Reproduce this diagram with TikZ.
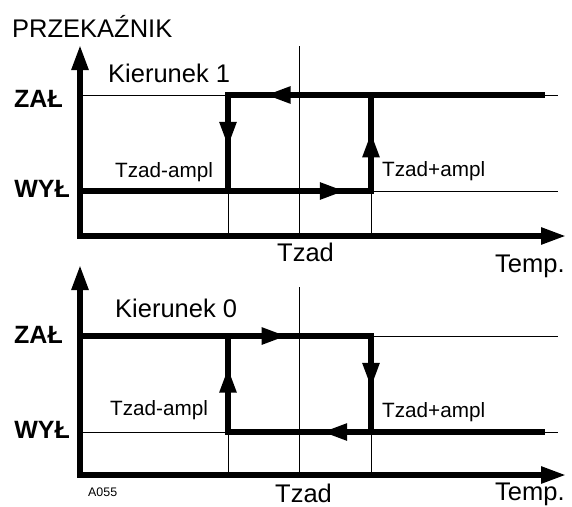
\documentclass[tikz,border=0pt]{standalone}
\usepackage{fontspec}
\setmainfont{Liberation Sans}
\usetikzlibrary{arrows.meta,decorations.markings}

\tikzset{
  axis/.style={line width=5.5pt, {Triangle[length=25pt,width=16pt]}-{Triangle[length=25pt,width=16pt]}},
  guide/.style={line width=0.9pt},
  relay/.style={line width=5.5pt, line cap=rect},
  midarrow/.style={postaction={decorate,decoration={markings,
      mark=at position #1 with {\arrow{Triangle[length=25pt,width=16pt]}}}}},
  biglabel/.style={font=\fontsize{25.5}{30}\selectfont, inner sep=0pt, anchor=base west},
  smalllabel/.style={font=\fontsize{20.7}{24}\selectfont, inner sep=0pt, anchor=base west},
  levellabel/.style={font=\bfseries\fontsize{25}{30}\selectfont, inner sep=0pt, anchor=base east},
}

\begin{document}
\begin{tikzpicture}[x=1pt,y=-1pt]
    \useasboundingbox (0,0) rectangle (572,506);

    % upper chart
    \coordinate (ytip1) at (80,45);
    \coordinate (orig1) at (80,236);
    \coordinate (xtip1) at (566,236);
    \coordinate (on1a) at (80,95);
    \coordinate (on1b) at (228,95);
    \coordinate (on1c) at (371,95);
    \coordinate (on1d) at (542,95);
    \coordinate (on1e) at (558,95);
    \coordinate (off1a) at (80,191);
    \coordinate (off1b) at (228,191);
    \coordinate (off1c) at (371,191);
    \coordinate (off1e) at (558,191);
    \coordinate (lo1) at (228,236);
    \coordinate (hi1) at (371,236);
    \coordinate (set1a) at (299,46);
    \coordinate (set1b) at (299,236);

    \draw[guide] (on1a) -- (on1e);
    \draw[guide] (off1a) -- (off1e);
    \draw[guide] (off1b) -- (lo1);
    \draw[guide] (off1c) -- (hi1);
    \draw[guide] (set1a) -- (set1b);
    \draw[axis] (ytip1) -- (orig1) -- (xtip1);
    \draw[relay, midarrow=0.88] (on1d) -- (on1b);
    \draw[relay, midarrow=0.54] (on1b) -- (off1b);
    \draw[relay, midarrow=0.91] (off1a) -- (off1c);
    \draw[relay, midarrow=0.61] (off1c) -- (on1c);

    \node[biglabel] (relay) at (12,37) {PRZEKAŹNIK};
    \node[biglabel] (dir1) at (108,82) {Kierunek 1};
    \node[levellabel] (on1) at (63,107) {ZAŁ};
    \node[levellabel] (off1) at (70,197) {WYŁ};
    \node[smalllabel] (lo1text) at (115,177) {Tzad-ampl};
    \node[smalllabel] (hi1text) at (382,176) {Tzad+ampl};
    \node[biglabel] (set1text) at (277,261) {Tzad};
    \node[biglabel] (temp1) at (495,272) {Temp.};

    % lower chart
    \coordinate (ytip0) at (80,265);
    \coordinate (orig0) at (80,475);
    \coordinate (xtip0) at (566,475);
    \coordinate (on0a) at (80,336);
    \coordinate (on0b) at (228,336);
    \coordinate (on0c) at (371,336);
    \coordinate (on0e) at (558,336);
    \coordinate (off0a) at (80,432);
    \coordinate (off0b) at (228,432);
    \coordinate (off0c) at (371,432);
    \coordinate (off0d) at (542,432);
    \coordinate (off0e) at (558,432);
    \coordinate (lo0) at (228,475);
    \coordinate (hi0) at (371,475);
    \coordinate (set0a) at (299,287);
    \coordinate (set0b) at (299,475);

    \draw[guide] (on0a) -- (on0e);
    \draw[guide] (off0a) -- (off0e);
    \draw[guide] (off0b) -- (lo0);
    \draw[guide] (off0c) -- (hi0);
    \draw[guide] (set0a) -- (set0b);
    \draw[axis] (ytip0) -- (orig0) -- (xtip0);
    \draw[relay, midarrow=0.71] (on0a) -- (on0c);
    \draw[relay, midarrow=0.54] (on0c) -- (off0c);
    \draw[relay, midarrow=0.70] (off0d) -- (off0b);
    \draw[relay, midarrow=0.67] (off0b) -- (on0b);

    \node[biglabel] (dir0) at (115,317) {Kierunek 0};
    \node[levellabel] (on0) at (63,343) {ZAŁ};
    \node[levellabel] (off0) at (70,438) {WYŁ};
    \node[smalllabel] (lo0text) at (110,415) {Tzad-ampl};
    \node[smalllabel] (hi0text) at (382,417) {Tzad+ampl};
    \node[font=\fontsize{12.4}{14}\selectfont, inner sep=0pt, anchor=base west] (code) at (88,496) {A055};
    \node[biglabel] (set0text) at (275,502) {Tzad};
    \node[biglabel] (temp0) at (495,500) {Temp.};
\end{tikzpicture}
\end{document}
